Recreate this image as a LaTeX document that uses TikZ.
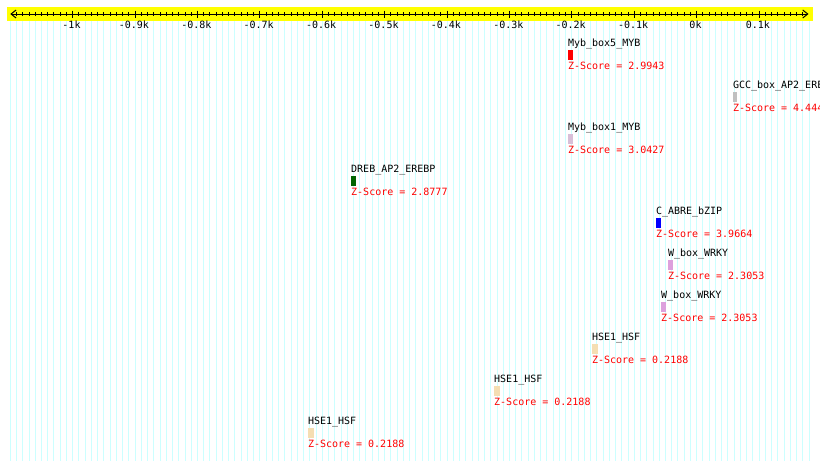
\documentclass[tikz,border=0pt]{standalone}
\usepackage{fontspec}
\newfontfamily\pixmono{DejaVu Sans Mono}
\usetikzlibrary{arrows.meta}
\definecolor{gridcyan}{RGB}{204,255,255}
\definecolor{axisyellow}{RGB}{255,255,0}
\definecolor{zred}{RGB}{255,0,0}
\definecolor{mybred}{RGB}{255,0,0}
\definecolor{gccgray}{RGB}{192,192,192}
\definecolor{thistlec}{RGB}{216,191,216}
\definecolor{drebgreen}{RGB}{0,100,0}
\definecolor{abreblue}{RGB}{0,0,255}
\definecolor{plumc}{RGB}{221,160,221}
\definecolor{wheatc}{RGB}{245,222,179}
\newcommand\xof[1]{696.7+0.624*(#1)}
\newcommand\tfbs[7]{%
  \pgfmathsetmacro\yo{42*#3}%
  \node[namelbl] (#1n) at ({#2},{46.7+\yo}) {#6};
  \node[sitebox, fill=#5, minimum width=#4pt] (#1b) at ({#2},{49.3+\yo}) {};
  \node[scorelbl] (#1z) at ({#2},{69.3+\yo}) {Z-Score = #7};
}
\begin{document}
\begin{tikzpicture}[x=1pt,y=-1pt,
  gridline/.style={draw=gridcyan, line width=1pt},
  minortick/.style={draw=black, line width=1pt},
  majortick/.style={draw=black, line width=1pt},
  axisline/.style={draw=black, line width=1pt, {Straight Barb[length=5pt,width=8pt]}-{Straight Barb[length=5pt,width=8pt]}},
  ticklbl/.style={font=\pixmono\fontsize{10}{10}\selectfont, anchor=base, inner sep=0pt, text=black},
  namelbl/.style={font=\pixmono\fontsize{10}{10}\selectfont, anchor=base west, inner sep=0pt, text=black},
  scorelbl/.style={font=\pixmono\fontsize{10}{10}\selectfont, anchor=base west, inner sep=0pt, text=zred},
  sitebox/.style={draw=none, inner sep=0pt, minimum height=10pt, anchor=north west}]
\useasboundingbox (0,0) rectangle (820,461);
\clip (0,0) rectangle (820,461);
\fill[white] (0,0) rectangle (820,461);
% grid
\foreach \v in {-1100,-1090,...,180} {
  \pgfmathsetmacro\gx{\xof{\v}}
  \draw[gridline] (\gx,21) -- (\gx,461);
}
% axis band
\fill[axisyellow] (7,7) rectangle (813,21);
\coordinate (axL) at (10.3,14);
\coordinate (axR) at (808.5,14);
\draw[axisline] (axL) -- (axR);
\foreach \v in {-1090,-1080,...,170} {
  \pgfmathsetmacro\gx{\xof{\v}}
  \draw[minortick] (\gx,12) -- (\gx,16);
}
\foreach \v/\t in {-1000/-1k,-900/-0.9k,-800/-0.8k,-700/-0.7k,-600/-0.6k,-500/-0.5k,-400/-0.4k,-300/-0.3k,-200/-0.2k,-100/-0.1k,0/0k,100/0.1k} {
  \pgfmathsetmacro\gx{\xof{\v}}
  \draw[majortick] (\gx,10.5) -- (\gx,17.5);
  \node[ticklbl] at ({\gx-1.2},28.3) {\t};
}
% binding sites
\tfbs{mybA}{567.9}{0}{4.6}{mybred}{Myb\_box5\_MYB}{2.9943}
\tfbs{gcc}{732.8}{1}{4.2}{gccgray}{GCC\_box\_AP2\_EREBP}{4.4444}
\tfbs{mybB}{567.9}{2}{4.6}{thistlec}{Myb\_box1\_MYB}{3.0427}
\tfbs{dreb}{351}{3}{4.8}{drebgreen}{DREB\_AP2\_EREBP}{2.8777}
\tfbs{abre}{655.8}{4}{5}{abreblue}{C\_ABRE\_bZIP}{3.9664}
\tfbs{wboxA}{667.8}{5}{5}{plumc}{W\_box\_WRKY}{2.3053}
\tfbs{wboxB}{661}{6}{5}{plumc}{W\_box\_WRKY}{2.3053}
\tfbs{hseA}{591.8}{7}{6}{wheatc}{HSE1\_HSF}{0.2188}
\tfbs{hseB}{494}{8}{6}{wheatc}{HSE1\_HSF}{0.2188}
\tfbs{hseC}{307.8}{9}{6}{wheatc}{HSE1\_HSF}{0.2188}
\end{tikzpicture}
\end{document}
